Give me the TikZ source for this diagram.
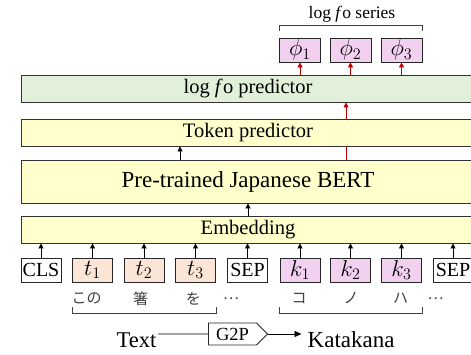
\documentclass[tikz,border=0pt]{standalone}
\usepackage{fix-cm}
\usepackage{fontspec}
\setmainfont{Liberation Serif}
\newfontfamily\jpfont{Noto Sans CJK JP}
\usetikzlibrary{shapes.symbols,arrows.meta}
\definecolor{layergreen}{RGB}{226,240,217}
\definecolor{layeryellow}{RGB}{255,255,204}
\definecolor{tokorange}{RGB}{251,229,214}
\definecolor{tokpink}{RGB}{242,208,240}
\definecolor{arrowred}{RGB}{192,0,0}
\begin{document}
\begin{tikzpicture}[x=1pt,y=-1pt,
        layer/.style={rectangle,draw=black!80,line width=0.9pt,minimum width=454pt,minimum height=27pt,inner sep=0pt,font=\fontsize{20.5}{22}\selectfont},
        tok/.style={rectangle,draw=black!85,line width=0.8pt,minimum width=40pt,minimum height=24pt,inner sep=0pt,font=\fontsize{20}{22}\selectfont},
        mtok/.style={tok,font=\fontsize{23}{24}\selectfont},
        up/.style={-{Triangle[length=5pt,width=5pt]},line width=0.8pt},
        redup/.style={up,arrowred},
        bracket/.style={line width=0.7pt,black!75},
        jp/.style={font=\jpfont\fontsize{15}{16}\selectfont,text=black!75,inner sep=0pt}]
        \useasboundingbox (0,0) rectangle (471,354);
        \clip (0,0) rectangle (471,354);
        % layers
        \node at (248,88.5) [layer,fill=layergreen] (f0pred) {log \textit{f}o predictor};
        \node at (248,132.5) [layer,fill=layeryellow] (tokpred) {Token predictor};
        \node at (248,181.5) [layer,fill=layeryellow,minimum height=43pt,font=\fontsize{23}{25}\selectfont] (bert) {Pre-trained Japanese BERT};
        \node at (248,229.5) [layer,fill=layeryellow] (emb) {Embedding};
        % input tokens
        \node at (41,270) [tok,fill=white] (cls) {CLS};
        \node at (92.5,270) [mtok,fill=tokorange] (t1) {$t_{1}$};
        \node at (144,270) [mtok,fill=tokorange] (t2) {$t_{2}$};
        \node at (195.5,270) [mtok,fill=tokorange] (t3) {$t_{3}$};
        \node at (247.5,270) [tok,fill=white] (sep1) {SEP};
        \node at (300,270) [mtok,fill=tokpink] (k1) {$k_{1}$};
        \node at (350.5,270) [mtok,fill=tokpink] (k2) {$k_{2}$};
        \node at (401.5,270) [mtok,fill=tokpink] (k3) {$k_{3}$};
        \node at (453,270) [tok,fill=white] (sep2) {SEP};
        % outputs
        \node at (300,50) [mtok,fill=tokpink,minimum width=41pt] (phi1) {$\phi_{1}$};
        \node at (350.5,50) [mtok,fill=tokpink,minimum width=41pt] (phi2) {$\phi_{2}$};
        \node at (401.5,50) [mtok,fill=tokpink,minimum width=41pt] (phi3) {$\phi_{3}$};
        \node at (352,18.5) [anchor=base,inner sep=0pt,font=\fontsize{17.5}{19}\selectfont] (series) {log \textit{f}o series};
        % characters
        \node at (86.7,298.5) [jp] (c1) {この};
        \node at (140.5,298.5) [jp] (c2) {箸};
        \node at (193.3,298.5) [jp] (c3) {を};
        \node at (231,298.5) [jp] (c4) {…};
        \node at (299,298.5) [jp] (c5) {コ};
        \node at (351,298.5) [jp] (c6) {ノ};
        \node at (400.5,298.5) [jp] (c7) {ハ};
        \node at (435.5,298.5) [jp] (c8) {…};
        % G2P
        \node at (136.5,347.3) [anchor=base,inner sep=1.5pt,font=\fontsize{22.5}{24}\selectfont] (txt) {Text};
        \node at (232.5,334) [signal,signal to=east,signal pointer angle=90,draw=black!85,line width=0.8pt,minimum width=59pt,minimum height=22pt,inner sep=0pt,font=\fontsize{18.5}{20}\selectfont] (g2p) {G2P};
        \node at (301.5,347.3) [anchor=base west,inner sep=0pt,inner xsep=6pt,font=\fontsize{23}{25}\selectfont] (kata) {Katakana};
        \draw[line width=0.8pt] (txt.east |- g2p) -- (g2p);
        \draw[-{Triangle[length=7pt,width=6pt]},line width=0.8pt] (g2p.east) -- (kata.west |- g2p);
        % token arrows
        \draw[up] (cls.north) -- (cls.north |- emb.south);
        \draw[up] (t1.north) -- (t1.north |- emb.south);
        \draw[up] (t2.north) -- (t2.north |- emb.south);
        \draw[up] (t3.north) -- (t3.north |- emb.south);
        \draw[up] (sep1.north) -- (sep1.north |- emb.south);
        \draw[up] (k1.north) -- (k1.north |- emb.south);
        \draw[up] (k2.north) -- (k2.north |- emb.south);
        \draw[up] (k3.north) -- (k3.north |- emb.south);
        \draw[up] (sep2.north) -- (sep2.north |- emb.south);
        \draw[up] (emb.north) -- (bert.south);
        \coordinate (tp) at (180,0);
        \draw[up] (bert.north -| tp) -- (tokpred.south -| tp);
        \coordinate (fp) at (346,0);
        \draw[arrowred,line width=0.8pt] (bert.north -| fp) -- (tokpred.south -| fp);
        \draw[redup] (tokpred.north -| fp) -- (f0pred.south -| fp);
        \draw[redup] (phi1.south |- f0pred.north) -- (phi1.south);
        \draw[redup] (phi2.south |- f0pred.north) -- (phi2.south);
        \draw[redup] (phi3.south |- f0pred.north) -- (phi3.south);
        % brackets
        \draw[bracket] ([yshift=-25pt]t1.south west) -- ([yshift=-31.3pt]t1.south west) -- ([yshift=-31.3pt]t3.south east) -- ([yshift=-25pt]t3.south east);
        \draw[bracket] ([yshift=-25pt]k1.south west) -- ([yshift=-31.3pt]k1.south west) -- ([yshift=-31.3pt]k3.south east) -- ([yshift=-25pt]k3.south east);
        \draw[bracket] ([yshift=7pt]phi1.north west) -- ([yshift=12pt]phi1.north west) -- ([yshift=12pt]phi3.north east) -- ([yshift=7pt]phi3.north east);
\end{tikzpicture}
\end{document}
